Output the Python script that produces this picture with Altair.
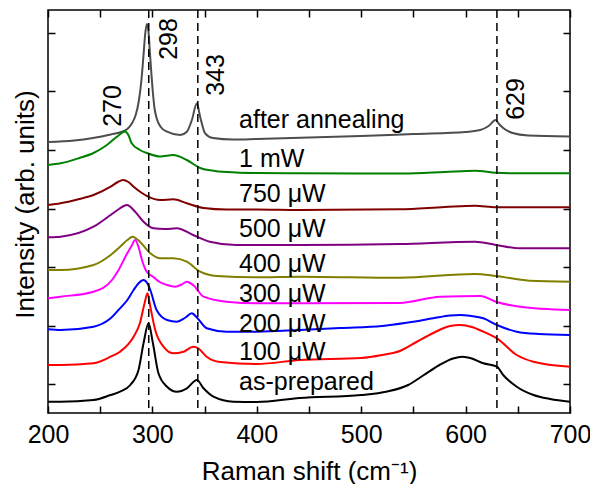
import altair as alt
import pandas as pd

# ---------------- data ----------------
SERIES = ["after annealing", "1 mW", "750 μW", "500 μW", "400 μW",
          "300 μW", "200 μW", "100 μW", "as-prepared"]
COLORS = ["#4d4d4d", "#008000", "#800000", "#800080", "#808000",
          "#ff00ff", "#0000ff", "#ff0000", "#000000"]

ANNEAL_W = [200, 225, 243, 260, 271, 276, 280, 284, 287, 289.5, 291.5, 293, 294.7, 296.3, 297.5,
            299, 300.5, 302, 304, 308, 314, 326.6, 333, 337.8, 342.6, 345.7, 350.5, 358, 377, 400,
            450, 500, 550, 600, 614, 622, 628.7, 632, 636, 645, 660, 700]
ANNEAL_I = [271, 272.5, 275, 278.5, 281.3, 284, 289, 298, 312, 333, 358, 378, 389, 381, 362,
            340, 320, 305, 295, 286, 281.3, 278, 281.3, 293, 309.7, 296.3, 279.7, 275, 273.5, 274,
            275.5, 277, 279, 281, 283, 287, 293, 289, 285, 280, 277.5, 276.5]

MW1_W = [200, 212, 230, 243.6, 255, 261, 267, 273.6, 277, 280, 288, 296, 307.5, 320, 333,
         345.7, 360, 380, 400, 440, 500, 540, 580, 609, 629, 650, 700]
MW1_I = [248, 249.7, 255, 260, 267, 272, 277, 281.5, 278, 270, 263, 259.5, 256.5, 258, 253,
         245, 242, 240.5, 240, 239.7, 239.5, 239.5, 241, 242.3, 240.3, 239.7, 239.7]

UW750_W = [200, 212, 230, 243.6, 260, 267, 271.7, 277, 282, 290, 296, 307.5, 320, 333, 349,
           371, 400, 441, 537, 580, 609, 629, 700]
UW750_I = [208, 209.7, 214, 218, 226.3, 231, 233, 231, 226.3, 220, 216.3, 213, 213.7, 209.7, 205,
           203.5, 203.5, 203, 203.7, 206, 207.3, 205.7, 205.7]

UW500_W = [200, 212, 243.6, 260, 268, 275.5, 283.5, 291.5, 301, 312, 323.4, 339, 355, 380, 400,
           441, 537, 609, 629, 652, 700]
UW500_I = [175.7, 176.3, 186.3, 198, 204, 208, 201.3, 191.3, 184.7, 184, 184.7, 178, 171.3, 168, 168,
           168, 169, 171.3, 168, 164.7, 164.7]

UW400_W = [200, 212, 243.6, 260, 269, 276, 281, 288, 298, 307.5, 320, 333, 345.7, 361.7, 400,
           441, 537, 609, 629, 661, 700]
UW400_I = [143, 143, 148, 158, 166.3, 173, 176.3, 171.3, 159.7, 154.7, 154.7, 151.3, 141.3, 137, 135.7,
           136.3, 135.3, 139, 137, 132.3, 131.3]

UW300_W = [200, 212, 243.6, 261.3, 267.6, 275, 280, 283.5, 287, 290, 294.7, 301, 307, 314, 321.8,
           328, 333, 339, 349, 371, 400, 441, 537, 575.6, 614, 629, 652, 700]
UW300_I = [114.7, 116.3, 121.3, 133, 143, 158, 167, 173, 165, 153, 141, 136, 131, 128, 126.3,
           128.5, 131.3, 128, 116.3, 111.3, 109.7, 109.7, 110, 116.3, 117, 111.3, 106.3, 103]

UW200_W = [200, 212, 243.6, 260, 269, 276, 282, 287, 291.5, 295, 298, 304, 314, 323.4, 331,
           337.7, 343, 352, 371, 400, 441, 480, 520, 545, 569, 585, 595, 605, 617, 630, 649, 670, 700]
UW200_I = [83.7, 83, 86.3, 94.7, 104.7, 113, 123, 130, 133, 130, 123, 103, 93, 91.3, 95,
           99.7, 95, 84.7, 81.3, 81.3, 83, 85, 87, 90.5, 94.7, 97.5, 98, 97, 94.7, 88, 81.3, 79, 78]

UW100_W = [200, 212, 243.6, 260, 269, 282, 288, 292.5, 295.3, 298, 302.7, 310.6, 320, 329.8, 339,
           344, 352, 365, 400, 441, 500, 520, 537, 553, 569, 585, 595, 606, 617, 630, 649, 665, 700]
UW100_I = [48, 48, 49.7, 56.3, 61.3, 76.3, 89.7, 109.7, 119.7, 106.3, 83, 66.3, 59.7, 61.3, 66.3,
           64.7, 56.3, 51, 49, 53, 55, 58, 62, 71, 80, 87, 88, 86, 81.3, 74.7, 58, 51.3, 46.3]

PREP_W = [200, 212, 243.6, 260, 269, 278.8, 286.7, 291.5, 296.3, 300.5, 305.8, 314, 323.4, 333,
          342.6, 349, 358.5, 377.6, 400, 441, 500, 525, 545, 560, 575, 588, 597, 606, 617, 630, 636,
          649, 665, 681, 700]
PREP_I = [11.3, 11.3, 13, 18, 21.3, 28, 43, 69.7, 89.7, 69.7, 39.7, 26.3, 21.3, 24.7,
          33, 24.7, 16.3, 11.3, 11, 15, 18, 21.5, 28, 38, 48, 54.5, 56.3, 54.5, 49.7, 46.3, 38,
          26.3, 18, 14, 11.3]

ALL_W = [ANNEAL_W, MW1_W, UW750_W, UW500_W, UW400_W, UW300_W, UW200_W, UW100_W, PREP_W]
ALL_I = [ANNEAL_I, MW1_I, UW750_I, UW500_I, UW400_I, UW300_I, UW200_I, UW100_I, PREP_I]

# curve name labels
LABEL_X = [383] * 9
LABEL_Y = [285, 246.3, 211.3, 176, 141.3, 111.3, 81.3, 53, 23]

# peak positions (dashed lines) and rotated peak labels
DASH_W = [296.5, 343.5, 630]
PEAK_TEXT = ["270", "298", "343", "629"]
PEAK_X = [262, 316.1, 361.1, 647.8]
PEAK_Y = [307, 374, 338, 314]

X_TICKS = list(range(200, 701, 50))
Y_TICKS = [29, 87.5, 146, 204.5, 263, 321.5, 380]

# ---------------- tables ----------------
rows = []
for name, ws, vs in zip(SERIES, ALL_W, ALL_I):
    for w, v in zip(ws, vs):
        rows.append({"series": name, "w": w, "v": v})
df = pd.DataFrame(rows)
lab_df = pd.DataFrame({"x": LABEL_X, "y": LABEL_Y, "text": SERIES})
dash_df = pd.DataFrame({"w": DASH_W})
peak_df = pd.DataFrame({"x": PEAK_X, "y": PEAK_Y, "text": PEAK_TEXT})

FONT = "Liberation Sans"
TICK = 7
xs = alt.Scale(domain=[200, 700], nice=False, zero=False)
ys = alt.Scale(domain=[0, 403], nice=False, zero=False)

common = dict(domain=False, grid=False, tickSize=TICK, offset=-TICK, tickColor="black",
              tickWidth=1.5)

bottom_axis = alt.Axis(orient="bottom", values=X_TICKS,
                       labelExpr="datum.value % 100 == 0 ? datum.label : ''",
                       labelFlush=False, labelPadding=9, labelFontSize=25, labelColor="black",
                       labelFont=FONT, title="Raman shift (cm⁻¹)", titleFontSize=26,
                       titleFont=FONT, titleFontWeight="normal", titleColor="black",
                       titleBaseline="alphabetic", titleY=73, **common)
left_axis = alt.Axis(orient="left", values=Y_TICKS, labels=False,
                     title="Intensity (arb. units)", titleFontSize=26, titleFont=FONT,
                     titleFontWeight="normal", titleColor="black", titleBaseline="alphabetic",
                     titleX=-21.5, titleY=194, **common)
top_axis = alt.Axis(orient="top", values=X_TICKS, labels=False, title="", **common)
right_axis = alt.Axis(orient="right", values=Y_TICKS, labels=False, title="", **common)

lines = alt.Chart(df).mark_line(strokeWidth=2, interpolate="monotone").encode(
    x=alt.X("w:Q", scale=xs, axis=bottom_axis),
    y=alt.Y("v:Q", scale=ys, axis=left_axis),
    color=alt.Color("series:N", scale=alt.Scale(domain=SERIES, range=COLORS), legend=None),
)

rules = alt.Chart(dash_df).mark_rule(strokeDash=[8, 5], strokeWidth=1.5, color="black").encode(
    x=alt.X("w:Q", scale=xs, axis=top_axis),
)

labels = alt.Chart(lab_df).mark_text(align="left", baseline="alphabetic", fontSize=25,
                                     font=FONT, color="black").encode(
    x=alt.X("x:Q", scale=xs, axis=None),
    y=alt.Y("y:Q", scale=ys, axis=right_axis),
    text="text:N",
)

peaks = alt.Chart(peak_df).mark_text(angle=270, align="center", baseline="middle", fontSize=25,
                                     font=FONT, color="black").encode(
    x=alt.X("x:Q", scale=xs, axis=None),
    y=alt.Y("y:Q", scale=ys, axis=None),
    text="text:N",
)

chart = alt.layer(lines, rules, labels, peaks).resolve_axis(
    x="independent", y="independent"
).properties(
    width=522, height=403,
    autosize=alt.AutoSizeParams(type="none"),
    padding={"left": 40, "top": 2, "right": 20, "bottom": 71},
).configure(font=FONT).configure_view(stroke="black", strokeWidth=1.5)

chart.save("out.html", embed_options={"renderer": "svg", "actions": False})
